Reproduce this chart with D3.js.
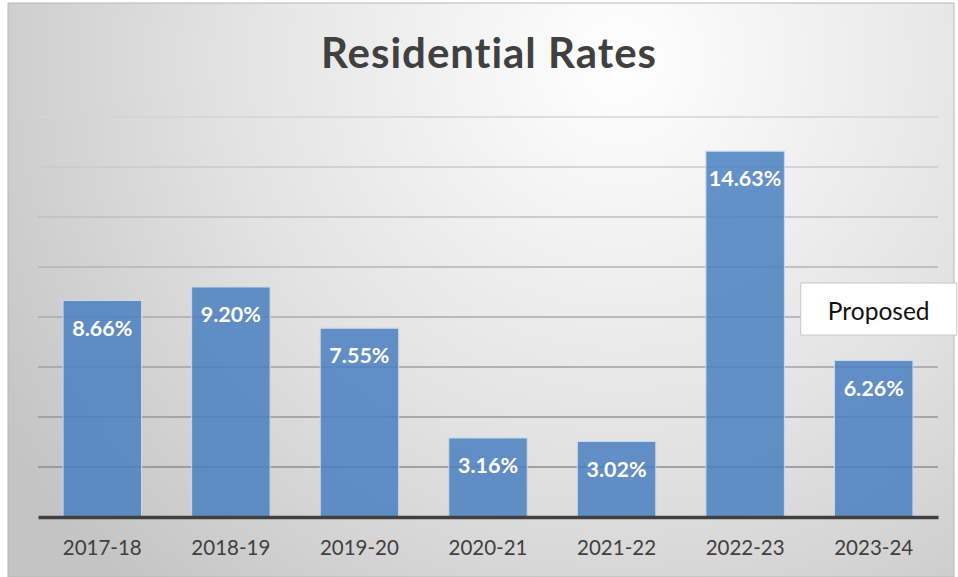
<!DOCTYPE html>
<meta charset="utf-8">
<html>
<style>
body { margin: 0; background: #fff; }
.tick text { font-family: Lato, "Open Sans", sans-serif; }
</style>
<body>
<script src="https://d3js.org/d3.v7.min.js"></script>
<script>

// chart data
var years = ["2017-18", "2018-19", "2019-20", "2020-21", "2021-22", "2022-23", "2023-24"];
var rates = [8.66, 9.20, 7.55, 3.16, 3.02, 14.63, 6.26];
var gridTicks = [2, 4, 6, 8, 10, 12, 14, 16];
var title = "Residential Rates";
var note = "Proposed";

var W = 958, H = 577;
var margin = {top: 117, right: 20, bottom: 60, left: 38},
    width = 938 - margin.left,
    height = 517 - margin.top;

var svg = d3.select("body").append("svg")
    .attr("width", W)
    .attr("height", H);

// background gradient
var defs = svg.append("defs");
var grad = defs.append("radialGradient")
    .attr("id", "bg")
    .attr("gradientUnits", "userSpaceOnUse")
    .attr("cx", 620).attr("cy", 60).attr("r", 720);
grad.append("stop").attr("offset", "0%").attr("stop-color", "#ffffff");
grad.append("stop").attr("offset", "55%").attr("stop-color", "#e2e2e2");
grad.append("stop").attr("offset", "100%").attr("stop-color", "#c4c4c4");

svg.append("rect")
    .attr("x", 8).attr("y", 3)
    .attr("width", W - 12).attr("height", H - 3)
    .attr("fill", "url(#bg)")
    .attr("stroke", "#b8b8b8")
    .attr("stroke-width", 1);

// title
svg.append("text")
    .attr("x", 489).attr("y", 68)
    .attr("text-anchor", "middle")
    .style("font-family", "Lato, 'Open Sans', sans-serif")
    .style("font-weight", "bold")
    .style("font-size", "42px")
    .style("letter-spacing", "1px")
    .style("fill", "#404040")
    .text(title);

var g = svg.append("g")
    .attr("transform", "translate(" + margin.left + "," + margin.top + ")");

// scales
var x = d3.scaleBand().domain(years).range([0, width]).paddingInner(0.39).paddingOuter(0.195);
var y = d3.scaleLinear().domain([0, 16]).range([height, 0]);

// gridlines, lighter toward the top
var gridColor = d3.scaleLinear().domain([2, 16]).range(["#8c8c8c", "#d4d4d4"]);
g.selectAll(".grid")
    .data(gridTicks)
  .enter().append("line")
    .attr("class", "grid")
    .attr("x1", 0).attr("x2", width)
    .attr("y1", function(d) { return y(d); })
    .attr("y2", function(d) { return y(d); })
    .attr("stroke", function(d) { return gridColor(d); })
    .attr("stroke-width", 1.5);

// bars
g.selectAll(".bar")
    .data(rates)
  .enter().append("rect")
    .attr("class", "bar")
    .attr("x", function(d, i) { return x(years[i]); })
    .attr("width", x.bandwidth())
    .attr("y", function(d) { return y(d); })
    .attr("height", function(d) { return height - y(d); })
    .attr("fill", "#4a7fc0")
    .attr("fill-opacity", 0.85)
    .attr("stroke", "#c8d8ee")
    .attr("stroke-width", 1);

// value labels
g.selectAll(".lbl")
    .data(rates)
  .enter().append("text")
    .attr("class", "lbl")
    .attr("x", function(d, i) { return x(years[i]) + x.bandwidth() / 2; })
    .attr("y", function(d) { return y(d) + 35; })
    .attr("text-anchor", "middle")
    .style("font-family", "Lato, 'Open Sans', sans-serif")
    .style("font-weight", "bold")
    .style("font-size", "21.5px")
    .style("fill", "#ffffff")
    .text(function(d) { return d.toFixed(2) + "%"; });

// x axis
var xAxis = g.append("g")
    .attr("transform", "translate(0," + height + ")")
    .call(d3.axisBottom(x).tickSize(0).tickPadding(23));
xAxis.select(".domain").attr("stroke", "#404040").attr("stroke-width", 3.5);
xAxis.selectAll(".tick text")
    .style("font-size", "20.5px")
    .style("fill", "#404040");

// "Proposed" box
var last = years[years.length - 1];
var bx = x(last) + margin.left + x.bandwidth() / 2 - 73;
svg.append("rect")
    .attr("x", bx).attr("y", 283)
    .attr("width", 156).attr("height", 52)
    .attr("fill", "#ffffff")
    .attr("stroke", "#c8c8c8");
svg.append("text")
    .attr("x", bx + 78).attr("y", 320)
    .attr("text-anchor", "middle")
    .style("font-family", "Lato, 'Open Sans', sans-serif")
    .style("font-size", "24.5px")
    .style("fill", "#111")
    .text(note);

</script>
</body>
</html>
